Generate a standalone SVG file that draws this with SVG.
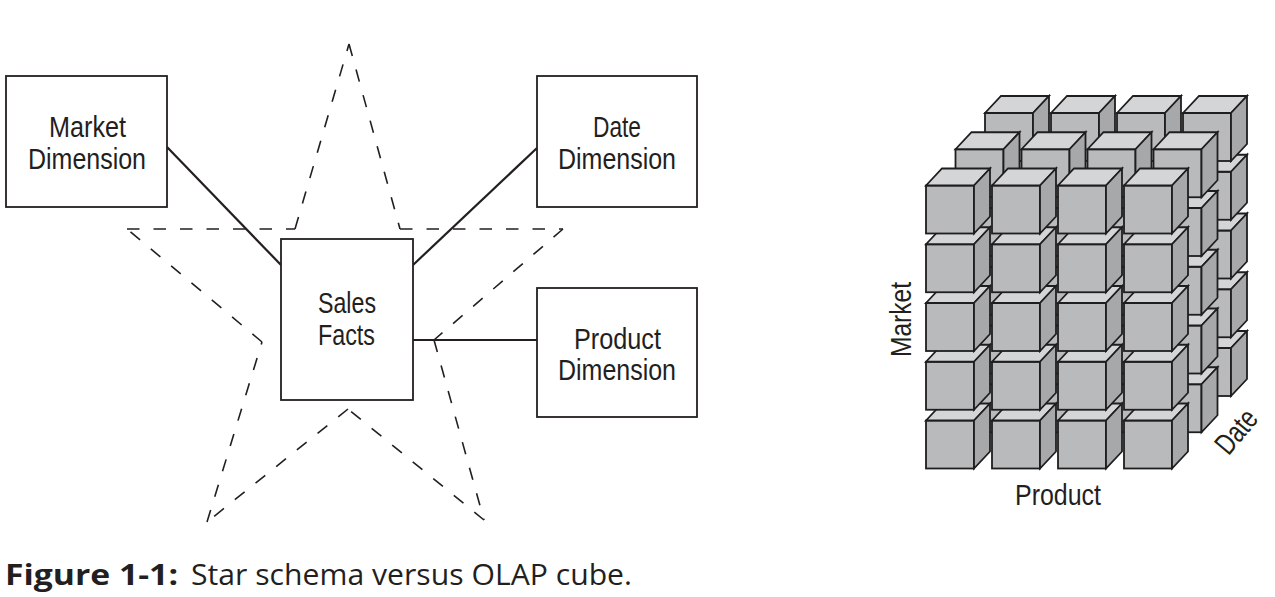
<svg xmlns="http://www.w3.org/2000/svg" xmlns:xlink="http://www.w3.org/1999/xlink" width="1275" height="597" viewBox="0 0 1275 597">
<style>
.box{fill:#fff;stroke:#231f20;stroke-width:1.8}
.conn{stroke:#231f20;stroke-width:2.2;fill:none}
.star{stroke:#231f20;stroke-width:1.6;stroke-dasharray:12.5 14;fill:none}
.lbl{font-family:"Liberation Sans Narrow","Liberation Sans",Arial,sans-serif;font-size:30px;fill:#231f20;text-anchor:middle}
.cf{fill:#b9babc}
.ct{fill:#d4d5d7}
.cs{fill:#a7a8aa}
.ce{stroke:#1e1e1e;stroke-width:1.8;stroke-linejoin:miter}
.cap{font-family:"Open Sans","Noto Sans","Liberation Sans",sans-serif;font-size:29px;fill:#231f20}
</style>
<defs>
<g id="cube" class="ce">
<rect class="cf" x="0" y="0" width="48" height="48"/>
<polygon class="ct" points="0,0 16,-17 64,-17 48,0"/>
<polygon class="cs" points="48,0 64,-17 64,31 48,48"/>
</g>
</defs>
<rect width="1275" height="597" fill="#fff"/>
<g id="star">
<line class="star" x1="349" y1="44" x2="400" y2="229"/>
<line class="star" x1="400" y1="229" x2="563" y2="229"/>
<line class="star" x1="563" y1="229" x2="434" y2="340"/>
<line class="star" x1="434" y1="340" x2="484" y2="520"/>
<line class="star" x1="484" y1="520" x2="348" y2="409"/>
<line class="star" x1="348" y1="409" x2="207" y2="522"/>
<line class="star" x1="207" y1="522" x2="262" y2="342"/>
<line class="star" x1="262" y1="342" x2="127" y2="229"/>
<line class="star" x1="127" y1="229" x2="295" y2="229"/>
<line class="star" x1="295" y1="229" x2="349" y2="44"/>
</g>
<g id="connectors">
<line class="conn" x1="167" y1="147" x2="281" y2="265"/>
<line class="conn" x1="413" y1="265" x2="537" y2="148"/>
<line class="conn" x1="413" y1="340" x2="537" y2="340"/>
</g>
<g id="market">
<rect class="box" x="6" y="76" width="161" height="131"/>
<text class="lbl" x="87.5" y="137" textLength="77" lengthAdjust="spacingAndGlyphs">Market</text>
<text class="lbl" x="87" y="169" textLength="118" lengthAdjust="spacingAndGlyphs">Dimension</text>
</g>
<g id="date">
<rect class="box" x="537" y="76" width="160" height="131"/>
<text class="lbl" x="617" y="137" textLength="48" lengthAdjust="spacingAndGlyphs">Date</text>
<text class="lbl" x="617" y="169" textLength="118" lengthAdjust="spacingAndGlyphs">Dimension</text>
</g>
<g id="product">
<rect class="box" x="537" y="288" width="160" height="129"/>
<text class="lbl" x="617.5" y="349" textLength="87" lengthAdjust="spacingAndGlyphs">Product</text>
<text class="lbl" x="617" y="380" textLength="118" lengthAdjust="spacingAndGlyphs">Dimension</text>
</g>
<g id="sales">
<rect class="box" x="281" y="239" width="132" height="161"/>
<text class="lbl" x="347" y="313" textLength="58" lengthAdjust="spacingAndGlyphs">Sales</text>
<text class="lbl" x="346.5" y="345" textLength="57" lengthAdjust="spacingAndGlyphs">Facts</text>
</g>
<g id="cube-grid">
<use xlink:href="#cube" x="985" y="348"/><use xlink:href="#cube" x="1051" y="348"/><use xlink:href="#cube" x="1117" y="348"/><use xlink:href="#cube" x="1183" y="348"/>
<use xlink:href="#cube" x="985" y="289.25"/><use xlink:href="#cube" x="1051" y="289.25"/><use xlink:href="#cube" x="1117" y="289.25"/><use xlink:href="#cube" x="1183" y="289.25"/>
<use xlink:href="#cube" x="985" y="230.5"/><use xlink:href="#cube" x="1051" y="230.5"/><use xlink:href="#cube" x="1117" y="230.5"/><use xlink:href="#cube" x="1183" y="230.5"/>
<use xlink:href="#cube" x="985" y="171.75"/><use xlink:href="#cube" x="1051" y="171.75"/><use xlink:href="#cube" x="1117" y="171.75"/><use xlink:href="#cube" x="1183" y="171.75"/>
<use xlink:href="#cube" x="985" y="113"/><use xlink:href="#cube" x="1051" y="113"/><use xlink:href="#cube" x="1117" y="113"/><use xlink:href="#cube" x="1183" y="113"/>
<use xlink:href="#cube" x="955.5" y="384.25"/><use xlink:href="#cube" x="1021.5" y="384.25"/><use xlink:href="#cube" x="1087.5" y="384.25"/><use xlink:href="#cube" x="1153.5" y="384.25"/>
<use xlink:href="#cube" x="955.5" y="325.5"/><use xlink:href="#cube" x="1021.5" y="325.5"/><use xlink:href="#cube" x="1087.5" y="325.5"/><use xlink:href="#cube" x="1153.5" y="325.5"/>
<use xlink:href="#cube" x="955.5" y="266.75"/><use xlink:href="#cube" x="1021.5" y="266.75"/><use xlink:href="#cube" x="1087.5" y="266.75"/><use xlink:href="#cube" x="1153.5" y="266.75"/>
<use xlink:href="#cube" x="955.5" y="208"/><use xlink:href="#cube" x="1021.5" y="208"/><use xlink:href="#cube" x="1087.5" y="208"/><use xlink:href="#cube" x="1153.5" y="208"/>
<use xlink:href="#cube" x="955.5" y="149.25"/><use xlink:href="#cube" x="1021.5" y="149.25"/><use xlink:href="#cube" x="1087.5" y="149.25"/><use xlink:href="#cube" x="1153.5" y="149.25"/>
<use xlink:href="#cube" x="926" y="420.5"/><use xlink:href="#cube" x="992" y="420.5"/><use xlink:href="#cube" x="1058" y="420.5"/><use xlink:href="#cube" x="1124" y="420.5"/>
<use xlink:href="#cube" x="926" y="361.75"/><use xlink:href="#cube" x="992" y="361.75"/><use xlink:href="#cube" x="1058" y="361.75"/><use xlink:href="#cube" x="1124" y="361.75"/>
<use xlink:href="#cube" x="926" y="303"/><use xlink:href="#cube" x="992" y="303"/><use xlink:href="#cube" x="1058" y="303"/><use xlink:href="#cube" x="1124" y="303"/>
<use xlink:href="#cube" x="926" y="244.25"/><use xlink:href="#cube" x="992" y="244.25"/><use xlink:href="#cube" x="1058" y="244.25"/><use xlink:href="#cube" x="1124" y="244.25"/>
<use xlink:href="#cube" x="926" y="185.5"/><use xlink:href="#cube" x="992" y="185.5"/><use xlink:href="#cube" x="1058" y="185.5"/><use xlink:href="#cube" x="1124" y="185.5"/>
</g>
<g id="cube-labels">
<text class="lbl" transform="translate(911,319.5) rotate(-90)" x="0" y="0" textLength="75" lengthAdjust="spacingAndGlyphs">Market</text>
<text class="lbl" x="1058" y="505" textLength="86" lengthAdjust="spacingAndGlyphs">Product</text>
<text class="lbl" transform="translate(1244,438) rotate(-50)" x="0" y="0" textLength="48" lengthAdjust="spacingAndGlyphs">Date</text>
</g>
<g id="caption">
<text class="cap" x="5" y="585" font-weight="bold" textLength="173" lengthAdjust="spacingAndGlyphs">Figure 1-1:</text>
<text class="cap" x="191" y="585" textLength="441" lengthAdjust="spacingAndGlyphs">Star schema versus OLAP cube.</text>
</g>
</svg>
